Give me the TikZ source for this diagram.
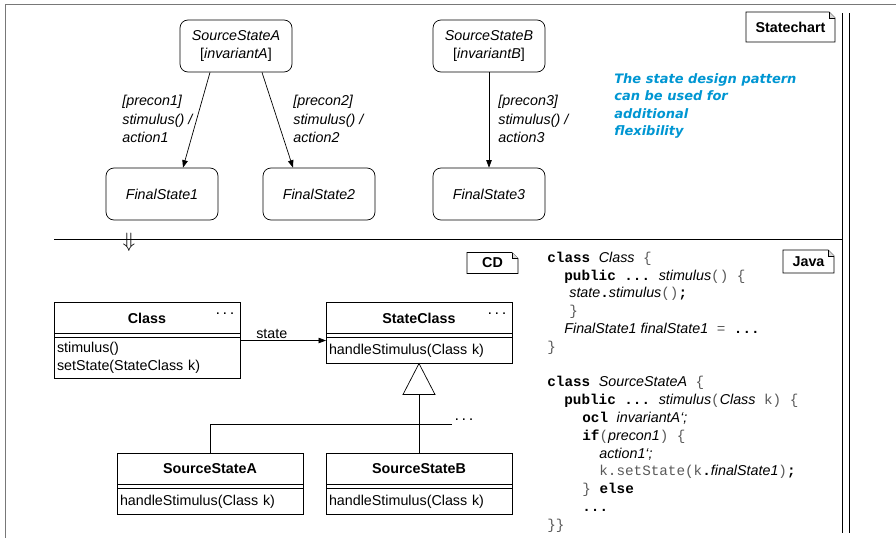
\documentclass[tikz,border=0pt]{standalone}
\usepackage{fontspec}
\setmainfont{Liberation Sans}
\setmonofont{Liberation Mono}
\newfontfamily\hintfont{DejaVu Sans}
\usetikzlibrary{positioning,arrows.meta}

\definecolor{hintblue}{RGB}{0,150,210}
\definecolor{framegray}{RGB}{120,120,120}
\newcommand{\umlsize}{\fontsize{14.3}{18.5}\selectfont}
\newcommand{\jkw}[1]{{\ttfamily\bfseries #1}}
\newcommand{\jid}[1]{{\rmfamily\itshape #1}}
\newcommand{\jpn}[1]{{\ttfamily\color{black!65}#1}}

\begin{document}
\begin{tikzpicture}[x=1pt, y=-1pt, line width=0.7pt,
statenode/.style={draw, rounded corners=8pt, minimum width=112pt, minimum height=52pt, align=center, font=\umlsize\itshape},
translabel/.style={anchor=west, align=left, inner sep=0pt, font=\umlsize\itshape},
clsname/.style={draw, font=\umlsize\bfseries, minimum width=186pt, minimum height=31pt, inner sep=0pt, outer sep=0pt},
clsgap/.style={draw, minimum width=186pt, minimum height=4pt, inner sep=0pt, outer sep=0pt},
clsops/.style={draw, font=\umlsize, text width=180pt, minimum height=26pt, inner xsep=3pt, inner ysep=0pt, outer sep=0pt, align=left},
clsdots/.style={anchor=base east, inner sep=0pt, font=\bfseries\fontsize{11}{11}\selectfont},
tagnote/.style={font=\umlsize\bfseries, inner sep=0pt, outer sep=0pt, minimum height=21pt},
trans/.style={-{Triangle[length=7.5pt,width=5.5pt]}},
]
\useasboundingbox (0,0) rectangle (896,538);

%Frame
\draw[framegray, line width=1.5pt] (896,4.5) -- (5.5,4.5) -- (5.5,538);
\draw[line width=1.2pt] (842.5,13) -- (842.5,533) (849.5,13) -- (849.5,533);
\draw (54,239) -- (842.5,239);
\node[font=\fontsize{20}{20}\selectfont, inner sep=0pt] (refine) at (129,242) {$\Downarrow$};

%Statechart nodes
\node[statenode] (srcA) at (236,46) {SourceStateA\\{\upshape[}invariantA{\upshape]}};
\node[statenode] (srcB) at (489,46) {SourceStateB\\{\upshape[}invariantB{\upshape]}};
\node[statenode] (fin1) at (162,194) {FinalState1};
\node[statenode] (fin2) at (319,194) {FinalState2};
\node[statenode] (fin3) at (489,194) {FinalState3};

\node[translabel] (lab1) at (122,119) {[precon1]\\stimulus() /\\action1};
\node[translabel] (lab2) at (293,119) {[precon2]\\stimulus() /\\action2};
\node[translabel] (lab3) at (498,119) {[precon3]\\stimulus() /\\action3};

\node[anchor=north west, align=left, inner sep=0pt, text=hintblue, font=\hintfont\bfseries\itshape\fontsize{13}{17.5}\selectfont] (hint) at (614,73) {The state design pattern\\can be used for\\additional\\flexibility};

%Statechart lines
\draw[trans] ([xshift=-26pt]srcA.south) -- ([xshift=21pt]fin1.north);
\draw[trans] ([xshift=26pt]srcA.south) -- ([xshift=-26pt]fin2.north);
\draw[trans] (srcB) -- (fin3);

%Tags
\node[tagnote, minimum width=89pt, minimum height=30pt] (chartTag) at (790.5,27) {Statechart};
\node[tagnote, minimum width=51pt] (cdTag) at (492.5,263) {CD};
\node[tagnote, minimum width=51pt, minimum height=23pt] (javaTag) at (808.5,261.5) {Java};
\draw (chartTag.south west) -- (chartTag.north west) -- ([xshift=-6pt]chartTag.north east) -- ([yshift=-6pt]chartTag.north east) -- (chartTag.south east) -- cycle;
\draw[fill=black!15, line width=0.4pt] ([xshift=-6pt]chartTag.north east) -- ([xshift=-6pt,yshift=-6pt]chartTag.north east) -- ([yshift=-6pt]chartTag.north east);
\draw (cdTag.south west) -- (cdTag.north west) -- ([xshift=-6pt]cdTag.north east) -- ([yshift=-6pt]cdTag.north east) -- (cdTag.south east) -- cycle;
\draw[fill=black!15, line width=0.4pt] ([xshift=-6pt]cdTag.north east) -- ([xshift=-6pt,yshift=-6pt]cdTag.north east) -- ([yshift=-6pt]cdTag.north east);
\draw (javaTag.south west) -- (javaTag.north west) -- ([xshift=-6pt]javaTag.north east) -- ([yshift=-6pt]javaTag.north east) -- (javaTag.south east) -- cycle;
\draw[fill=black!15, line width=0.4pt] ([xshift=-6pt]javaTag.north east) -- ([xshift=-6pt,yshift=-6pt]javaTag.north east) -- ([yshift=-6pt]javaTag.north east);

%Class diagram nodes
\node[clsname] (cls) at (147,318) {Class};
\node[clsgap, below=0pt of cls] (clsAttr) {};
\node[clsops, minimum height=41pt, below=0pt of clsAttr] (clsOps) {stimulus()\\setState(StateClass k)};
\node[clsdots] (clsDots) at ([xshift=-6pt,yshift=-11.5pt]cls.north east) {. . .};

\node[clsname] (stc) at (419,318) {StateClass};
\node[clsgap, below=0pt of stc] (stcAttr) {};
\node[clsops, below=0pt of stcAttr] (stcOps) {handleStimulus(Class k)};
\node[clsdots] (stcDots) at ([xshift=-6pt,yshift=-11.5pt]stc.north east) {. . .};

\node[clsname] (clsA) at (210,469) {SourceStateA};
\node[clsgap, below=0pt of clsA] (clsAAttr) {};
\node[clsops, below=0pt of clsAAttr] (clsAOps) {handleStimulus(Class k)};

\node[clsname] (clsB) at (419,469) {SourceStateB};
\node[clsgap, below=0pt of clsB] (clsBAttr) {};
\node[clsops, below=0pt of clsBAttr] (clsBOps) {handleStimulus(Class k)};

%Class diagram lines
\draw[trans] ([yshift=-3pt]clsOps.north east) -- node[above, pos=0.37, font=\umlsize, inner sep=2pt] (stateLab) {state} ([yshift=-3pt]stcOps.north west);
\draw[fill=white] (stcOps.south) -- ++(-16,31) -- ++(32,0) -- cycle;
\coordinate (genBase) at ([yshift=-31pt]stcOps.south);
\coordinate (genEnd) at (452,424);
\draw (genBase) -- (clsB.north);
\draw (clsA.north) |- (genEnd);
\node[anchor=base west, inner sep=0pt, font=\bfseries\fontsize{11}{11}\selectfont] (genDots) at (455,420.5) {. . .};

%Java code
\node[anchor=north west, align=left, inner sep=0pt, font=\ttfamily\fontsize{14.3}{17.8}\selectfont] (code) at (547,251.5) {%
\jkw{class} \jid{Class} \jpn{\{}\\
\hspace*{17pt}\jkw{public ...} \jid{stimulus}\jpn{()} \jpn{\{}\\
\hspace*{22pt}\jid{state}\jkw{.}\jid{stimulus}\jpn{()}\jkw{;}\\
\hspace*{22pt}\jpn{\}}\\
\hspace*{17pt}\jid{FinalState1 finalState1} \jpn{=} \jkw{...}\\
\jpn{\}}\\[17.8pt]
\jkw{class} \jid{SourceStateA} \jpn{\{}\\
\hspace*{17pt}\jkw{public ...} \jid{stimulus}\jpn{(}\jid{Class} \jpn{k)} \jpn{\{}\\
\hspace*{35pt}\jkw{ocl} \jid{invariantA`;}\\
\hspace*{35pt}\jkw{if}\jpn{(}\jid{precon1}\jpn{)} \jpn{\{}\\
\hspace*{52pt}\jid{action1`;}\\
\hspace*{52pt}\jpn{k.setState(k}\jkw{.}\jid{finalState1}\jpn{)}\jkw{;}\\
\hspace*{35pt}\jpn{\}} \jkw{else}\\
\hspace*{35pt}\jkw{...}\\
\jpn{\}\}}};
\end{tikzpicture}
\end{document}
